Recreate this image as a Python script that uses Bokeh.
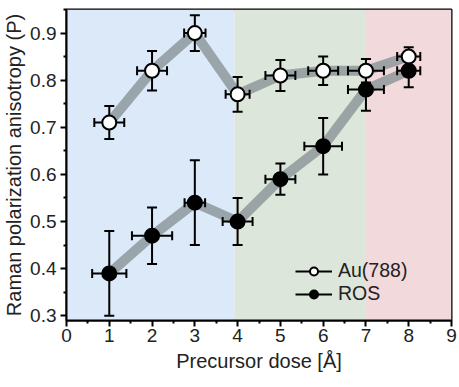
import math
from bokeh.plotting import figure
from bokeh.models import Legend, LegendItem, FixedTicker, Range1d
from bokeh.embed import file_html
from bokeh.resources import INLINE

# ---- data ----
dose = [1, 2, 3, 4, 5, 6, 7, 8]
au_p = [0.71, 0.82, 0.90, 0.77, 0.81, 0.82, 0.82, 0.85]
au_perr = [0.035, 0.042, 0.038, 0.037, 0.033, 0.03, 0.025, 0.02]
au_xerr = [0.35, 0.35, 0.25, 0.28, 0.35, 0.35, 0.42, 0.27]
ros_p = [0.39, 0.47, 0.54, 0.50, 0.59, 0.66, 0.78, 0.82]
ros_perr = [0.09, 0.06, 0.09, 0.05, 0.033, 0.06, 0.045, 0.035]
ros_xerr = [0.4, 0.47, 0.24, 0.35, 0.35, 0.44, 0.42, 0.27]

region_left = [0, 3.93, 7]
region_right = [3.93, 7, 9]
region_colors = ["#dce9f8", "#dde6da", "#f2d9db"]

x_ticks = [0, 1, 2, 3, 4, 5, 6, 7, 8, 9]
y_ticks = [0.3, 0.4, 0.5, 0.6, 0.7, 0.8, 0.9]

FONT = "Liberation Sans"

p = figure(width=459, height=387, output_backend="svg", toolbar_location=None,
           x_range=Range1d(0, 9), y_range=Range1d(0.29, 0.95),
           min_border_left=64, min_border_right=8, min_border_top=9, min_border_bottom=67)

p.xgrid.visible = False
p.ygrid.visible = False
p.outline_line_color = "black"
p.outline_line_width = 2
p.background_fill_color = "white"
p.border_fill_color = "white"

# background regions
p.quad(left=region_left, right=region_right, bottom=0.29, top=0.95,
       fill_color=region_colors, line_color=None)

# gray connecting lines
p.line(dose, au_p, line_width=10, line_color="#8a9397", line_alpha=0.8)
p.line(dose, ros_p, line_width=10, line_color="#8a9397", line_alpha=0.8)

def add_errors(y, yerr, xerr):
    yl = [a - b for a, b in zip(y, yerr)]
    yu = [a + b for a, b in zip(y, yerr)]
    xl = [a - b for a, b in zip(dose, xerr)]
    xu = [a + b for a, b in zip(dose, xerr)]
    p.segment(x0=dose, y0=yl, x1=dose, y1=yu, line_color="black", line_width=2)
    p.segment(x0=xl, y0=y, x1=xu, y1=y, line_color="black", line_width=2)
    p.scatter(dose + dose, yl + yu, marker="dash", size=10,
              line_color="black", line_width=2)
    p.scatter(xl + xu, y + y, marker="dash", size=9, angle=math.pi / 2,
              line_color="black", line_width=2)

add_errors(au_p, au_perr, au_xerr)
add_errors(ros_p, ros_perr, ros_xerr)

p.scatter(dose, au_p, size=14, fill_color="white", line_color="black", line_width=2)
p.scatter(dose, ros_p, size=14, fill_color="black", line_color="black", line_width=2)

# legend (renderers placed outside the visible range)
l1 = p.line([-5, -4], [0, 0], line_color="black", line_width=2)
s1 = p.scatter([-5], [0], size=12, fill_color="white", line_color="black", line_width=2)
l2 = p.line([-5, -4], [0, 0], line_color="black", line_width=2)
s2 = p.scatter([-5], [0], size=12, fill_color="black", line_color="black", line_width=2)
legend = Legend(items=[LegendItem(label="Au(788)", renderers=[l1, s1]),
                       LegendItem(label="ROS", renderers=[l2, s2])],
                location=(229, 15), orientation="vertical",
                background_fill_alpha=0, border_line_color=None,
                padding=0, margin=0, spacing=0,
                glyph_width=37, glyph_height=20, label_height=20,
                label_standoff=6,
                label_text_font=FONT, label_text_font_size="19.5px",
                label_text_color="#222222")
p.add_layout(legend, "center")

# axes
for ax in (p.xaxis[0], p.yaxis[0]):
    ax.axis_line_width = 2
    ax.axis_line_color = "black"
    ax.major_tick_line_width = 2
    ax.minor_tick_line_width = 2
    ax.major_tick_out = 6
    ax.major_tick_in = 0
    ax.minor_tick_out = 3
    ax.minor_tick_in = 0
    ax.major_label_text_font = FONT
    ax.major_label_text_font_size = "19px"
    ax.major_label_text_color = "#222222"
    ax.axis_label_text_font = FONT
    ax.axis_label_text_font_size = "20px"
    ax.axis_label_text_font_style = "normal"
    ax.axis_label_text_color = "#222222"

p.xaxis.ticker = FixedTicker(ticks=x_ticks, minor_ticks=[v + 0.5 for v in x_ticks[:-1]])
p.yaxis.ticker = FixedTicker(ticks=y_ticks, minor_ticks=[round(v + 0.05, 2) for v in y_ticks])
p.yaxis.major_label_overrides = {v: f"{v:.1f}" for v in y_ticks}
p.xaxis.axis_label = "Precursor dose [Å]"
p.yaxis.axis_label = "Raman polarization anisotropy (P)"
p.xaxis.major_label_standoff = 2
p.yaxis.major_label_standoff = 4
p.xaxis.axis_label_standoff = 5
p.yaxis.axis_label_standoff = 2

open("out.html", "w").write(file_html(p, INLINE))
